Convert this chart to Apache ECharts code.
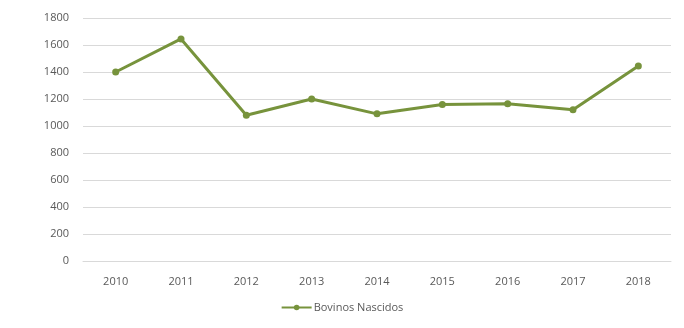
<!DOCTYPE html>
<html><head><meta charset="utf-8">
<script src="https://cdn.jsdelivr.net/npm/echarts@6/dist/echarts.min.js"></script>
<style>html,body{margin:0;padding:0;background:#fff}#c{width:684px;height:328px}</style>
</head><body><div id="c"></div>
<script>
const categories = ['2010','2011','2012','2013','2014','2015','2016','2017','2018'];
const bovinosNascidos = [1400, 1645, 1080, 1200, 1090, 1160, 1165, 1120, 1445];
const seriesName = 'Bovinos Nascidos';
const chart = echarts.init(document.getElementById('c'));
const font = 'Open Sans, sans-serif';
chart.setOption({
  animation: false,
  backgroundColor: '#fff',
  grid: {left: 83, right: 13, top: 18, bottom: 67},
  legend: {
    bottom: 10, left: 'center', data: [seriesName],
    itemWidth: 30, itemHeight: 7, itemGap: 4,
    textStyle: {color: '#595959', fontSize: 11, fontFamily: font, padding: [0,0,0,-3]}
  },
  xAxis: {
    type: 'category', data: categories, boundaryGap: true,
    axisLine: {lineStyle: {color: '#d9d9d9'}},
    axisTick: {show: false},
    axisLabel: {color: '#595959', fontSize: 11, fontFamily: font, margin: 15}
  },
  yAxis: {
    type: 'value', min: 0, max: 1800, interval: 200,
    axisLine: {show: false}, axisTick: {show: false},
    splitLine: {lineStyle: {color: '#d9d9d9'}},
    axisLabel: {color: '#595959', fontSize: 11, fontFamily: font, margin: 14,
      formatter: v => String(v)}
  },
  series: [{
    name: seriesName, type: 'line', data: bovinosNascidos,
    symbol: 'circle', symbolSize: 7,
    lineStyle: {color: '#77933C', width: 3},
    itemStyle: {color: '#77933C'}
  }]
});
</script></body></html>
